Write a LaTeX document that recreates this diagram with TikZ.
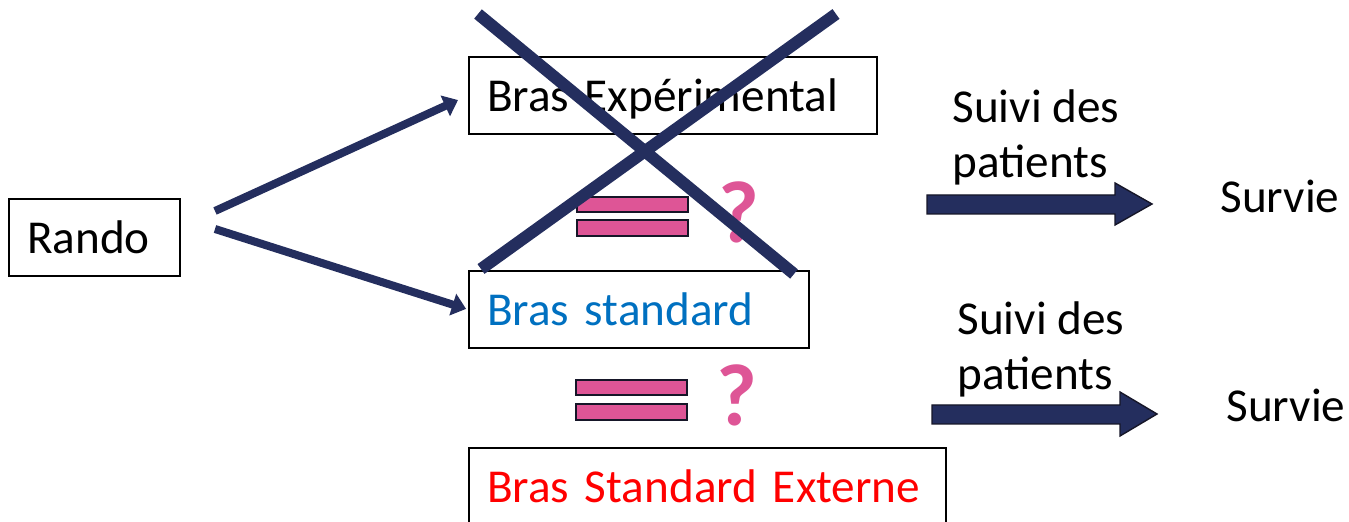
\documentclass[tikz,border=0pt]{standalone}
\usepackage{fontspec}
\setmainfont{Carlito}
\usetikzlibrary{arrows.meta}
\definecolor{navy}{RGB}{36,46,94}
\definecolor{edgedark}{RGB}{22,22,40}
\definecolor{qpink}{RGB}{222,85,150}
\definecolor{stdblue}{RGB}{0,112,192}
\definecolor{extred}{RGB}{255,0,0}
\begin{document}
\begin{tikzpicture}[x=0.5pt,y=-0.5pt,
  box/.style={draw=black,line width=1pt,anchor=north west,inner xsep=9pt,inner ysep=0pt,
    minimum height=38.5pt,text height=16pt,text depth=0pt,align=left,
    font=\fontsize{23.6}{28}\selectfont},
  lbl/.style={anchor=base west,inner sep=0pt,font=\fontsize{23.6}{27.5}\selectfont},
  qm/.style={anchor=base west,inner sep=0pt,text=qpink,font=\bfseries\fontsize{44}{50}\selectfont},
  rarrow/.style={draw=navy,line width=4pt,-{Triangle[length=7pt,width=11pt]}},
  eqbar/.style={fill=qpink,draw=edgedark,line width=1pt},
  blockarrow/.style={fill=navy,draw=edgedark,line width=0.7pt},
  xline/.style={draw=navy,line width=6pt}]
\useasboundingbox (0,0) rectangle (1349,522);
\clip (0,0) rectangle (1349,522);

% boxes
\node[box,text width=67.5pt] (rando) at (8,198) {Rando};
\node[box,text width=186pt] (exp) at (468,56) {Bras Expérimental};
\node[box,text width=152pt,text=stdblue] (std) at (468,270) {Bras standard};
\node[box,text width=220.5pt,text=extred] (ext) at (468,447) {Bras Standard Externe};

% arrows from Rando
\coordinate (t1) at (215,211);
\coordinate (t2) at (215,229);
\draw[rarrow,shorten >=5.5pt] (t1) -- (exp.west);
\draw[rarrow,shorten >=1pt] (t2) -- (std.west);

% equals signs
\draw[eqbar] (577,197) rectangle (688,212);
\draw[eqbar] (577,220) rectangle (688,236);
\draw[eqbar] (576,380) rectangle (687,395);
\draw[eqbar] (576,404) rectangle (687,420);
\node[qm] (q1) at (718,243) {?};
\node[qm] (q2) at (716,426) {?};

% follow-up labels and block arrows
\node[lbl,align=left] (s1) at (952,178) {Suivi des\\patients};
\node[lbl,align=left] (s2) at (957,390) {Suivi des\\patients};
\draw[blockarrow] (927,195) -- (1115,195) -- (1115,183) -- (1152,204) -- (1115,225) -- (1115,214) -- (927,214) -- cycle;
\draw[blockarrow] (932,405) -- (1120,405) -- (1120,392) -- (1157,414) -- (1120,436) -- (1120,424) -- (932,424) -- cycle;
\node[lbl] (v1) at (1220,213) {Survie};
\node[lbl] (v2) at (1226,422) {Survie};

% crossing out
\draw[xline] (478,14) -- (794,274);
\draw[xline] (836,14) -- (481,269);
\end{tikzpicture}
\end{document}
